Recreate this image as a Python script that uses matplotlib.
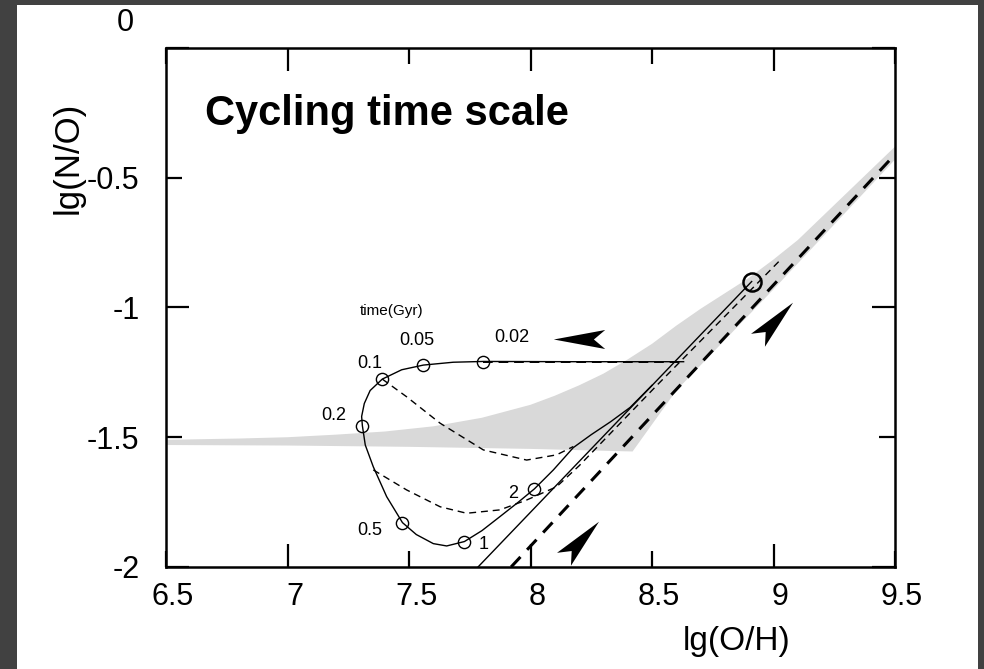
import numpy as np
import matplotlib
matplotlib.use('Agg')
import matplotlib.pyplot as plt
from matplotlib.path import Path
from matplotlib.markers import MarkerStyle
from matplotlib.transforms import Affine2D, offset_copy
from matplotlib.patches import Rectangle
from matplotlib.ticker import MultipleLocator, FuncFormatter

plt.rcParams['font.family'] = ['Liberation Sans', 'DejaVu Sans']
plt.rcParams['axes.unicode_minus'] = False

# grey band
band_x = [6.5, 6.8, 7.0, 7.2, 7.4, 7.6, 7.8, 8.0, 8.1, 8.2, 8.3, 8.4, 8.5, 8.6,
          8.7, 8.8, 8.9, 9.0, 9.1, 9.2, 9.3, 9.4, 9.5]
band_top = [-1.51, -1.505, -1.50, -1.49, -1.478, -1.458, -1.425, -1.375, -1.34, -1.30, -1.255, -1.20, -1.14, -1.07,
            -1.005, -0.945, -0.885, -0.815, -0.74, -0.65, -0.56, -0.47, -0.38]
band_lo_x = [6.5, 7.0, 7.5, 8.0, 8.42, 8.6, 9.0, 9.5]
band_lo_y = [-1.53, -1.532, -1.537, -1.545, -1.555, -1.32, -0.93, -0.43]

# model track, solid (infall jump + loop back to the closed box line)
track_x = [8.63, 8.2, 7.806, 7.682, 7.559, 7.47, 7.39, 7.34, 7.316, 7.305, 7.308, 7.32, 7.353,
           7.408, 7.473, 7.53, 7.60, 7.655, 7.728, 7.80, 7.874, 7.95, 8.016, 8.094, 8.176,
           8.25, 8.33, 8.41, 8.50]
track_y = [-1.209, -1.209, -1.208, -1.211, -1.222, -1.24, -1.276, -1.32, -1.37, -1.42, -1.455, -1.53, -1.614,
           -1.729, -1.829, -1.875, -1.91, -1.919, -1.902, -1.86, -1.806, -1.75, -1.699, -1.626, -1.54,
           -1.49, -1.44, -1.385, -1.30]

# time marks on the track
time_x = [7.806, 7.559, 7.39, 7.308, 7.473, 7.728, 8.016]
time_y = [-1.209, -1.222, -1.276, -1.455, -1.829, -1.902, -1.699]
time_lbl = ['0.02', '0.05', '0.1', '0.2', '0.5', '1', '2']
lbl_x = [7.924, 7.533, 7.34, 7.19, 7.34, 7.805, 7.928]
lbl_y = [-1.114, -1.129, -1.214, -1.418, -1.861, -1.915, -1.715]

# closed box line (solid) and the other cycling models (dashed)
box_x = [7.784, 8.91]
box_y = [-2.0, -0.90]
dash_hi_x = [7.39, 7.49, 7.628, 7.806, 7.984, 8.107, 8.176]
dash_hi_y = [-1.276, -1.344, -1.446, -1.549, -1.588, -1.568, -1.536]
dash_lo_x = [7.353, 7.49, 7.628, 7.737, 7.874, 7.984, 8.107, 8.2, 8.52, 9.03]
dash_lo_y = [-1.626, -1.703, -1.768, -1.793, -1.780, -1.742, -1.691, -1.61, -1.30, -0.815]
jump_x = [7.806, 8.63]
jump_y = [-1.209, -1.209]
thick_x = [7.92, 9.5]
thick_y = [-2.0, -0.41]
start_x, start_y = 8.91, -0.90

# arrow heads: centre, direction
arr_x = [8.20, 9.008, 8.207]
arr_y = [-1.123, -1.051, -1.897]
arr_ang = [180, 47, 47]

fig = plt.figure(figsize=(9.84, 6.69), dpi=100)
fig.patch.set_facecolor('#414141')
fig.patches.append(Rectangle((0.0173, 0.0), 0.9766, 0.9925, transform=fig.transFigure,
                             facecolor='white', edgecolor='none', zorder=-10))

ax = fig.add_axes([0.1687, 0.1525, 0.7409, 0.7758])
ax.set_facecolor('none')

ax.fill(np.r_[band_x, band_lo_x[::-1]], np.r_[band_top, band_lo_y[::-1]],
        color='#d9d9d9', lw=0, zorder=1)

ax.plot(track_x, track_y, color='black', lw=1.0, zorder=3)
ax.plot(box_x, box_y, color='black', lw=1.0, zorder=3)
ax.plot(dash_hi_x, dash_hi_y, color='black', lw=1.0, ls=(0, (5, 3.5)), zorder=3)
ax.plot(dash_lo_x, dash_lo_y, color='black', lw=1.0, ls=(0, (5, 3.5)), zorder=3)
ax.plot(jump_x, jump_y, color='black', lw=1.4, ls=(0, (5, 3)), zorder=3)
ax.plot(thick_x, thick_y, color='black', lw=2.2, ls=(0, (4.5, 3.2)), zorder=3)

# open circles, the curve shows through them
ax.plot(time_x, time_y, 'o', ms=8.8, mfc='none', mec='black', mew=1.0, zorder=4)
ax.plot(start_x, start_y, 'o', ms=13, mfc='none', mec='black', mew=1.8, zorder=4)

for t, lx, ly in zip(time_lbl, lbl_x, lbl_y):
    ax.text(lx, ly, t, fontsize=13, ha='center', va='center')
ax.text(7.43, -1.013, 'time(Gyr)', fontsize=11, ha='center', va='center')

head = Path([(1, 0), (-1, 0.37), (-0.56, 0), (-1, -0.37), (1, 0)],
            [Path.MOVETO, Path.LINETO, Path.LINETO, Path.LINETO, Path.CLOSEPOLY])
for x, y, a in zip(arr_x, arr_y, arr_ang):
    m = MarkerStyle(head, transform=Affine2D().rotate_deg(a))
    ax.plot(x, y, marker=m, ms=37, color='black', mew=0, ls='none', zorder=5)

ax.text(0.0535, 0.852, 'Cycling time scale', transform=ax.transAxes,
        fontsize=30, fontweight='bold', ha='left', va='baseline')

ax.set_xlim(6.5, 9.5)
ax.set_ylim(-2, 0)
fmt = FuncFormatter(lambda v, p: '%g' % v)
for axis in (ax.xaxis, ax.yaxis):
    axis.set_major_locator(MultipleLocator(1))
    axis.set_minor_locator(MultipleLocator(0.5))
    axis.set_major_formatter(fmt)
    axis.set_minor_formatter(fmt)
ax.tick_params(which='both', direction='in', top=True, right=True, width=1.6,
               labelsize=22, colors='black')
ax.tick_params(which='major', length=16.5)
ax.tick_params(which='minor', length=11.5)
ax.tick_params(axis='x', which='both', pad=11)
ax.tick_params(axis='y', which='both', pad=19)
for s in ax.spines.values():
    s.set_linewidth(1.8)

ax.set_xlabel('lg(O/H)', fontsize=24)
ax.set_ylabel('lg(N/O)', fontsize=25)
ax.xaxis.set_label_coords(0.783, -0.114)
ax.yaxis.set_label_coords(-0.112, 0.788)

fig.canvas.draw()
for lab in ax.xaxis.get_majorticklabels() + ax.xaxis.get_minorticklabels():
    lab.set_transform(offset_copy(lab.get_transform(), fig=fig, x=7, y=0, units='dots'))
for lab in ax.yaxis.get_majorticklabels():
    if lab.get_text() == '0':
        lab.set_transform(offset_copy(lab.get_transform(), fig=fig, x=-6, y=28, units='dots'))

fig.savefig('out.png', dpi=100, facecolor=fig.get_facecolor())
